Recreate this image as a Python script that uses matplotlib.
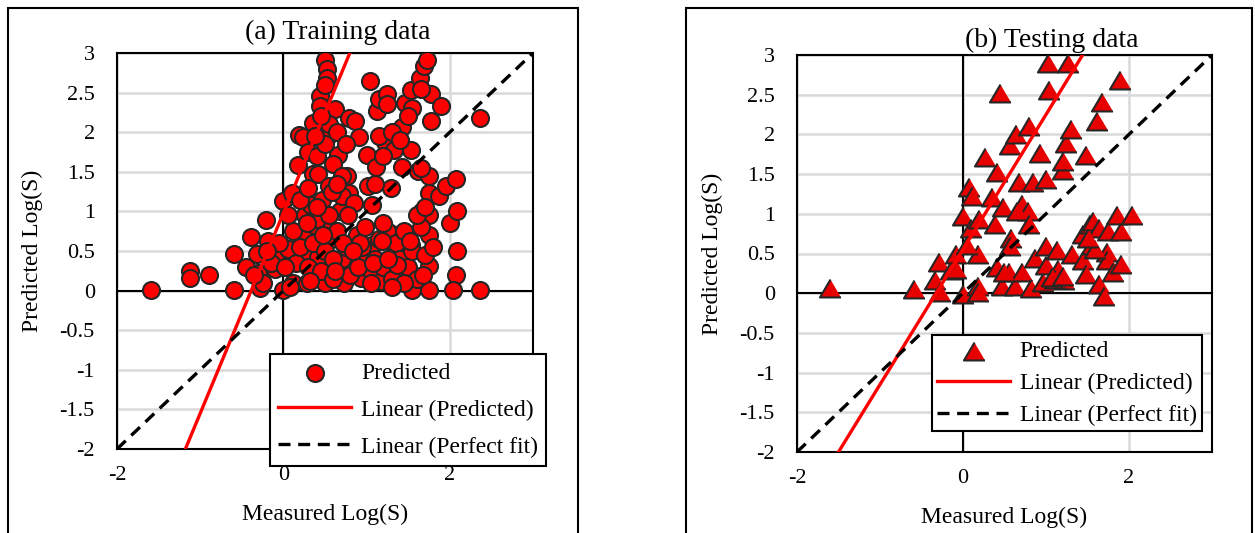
import matplotlib
matplotlib.use('Agg')
import matplotlib.pyplot as plt
from matplotlib.patches import Rectangle
import numpy as np

plt.rcParams['font.family'] = 'Liberation Serif'
plt.rcParams['axes.unicode_minus'] = False

# training set: measured vs predicted log solubility
train_measured = [
    -1.59, -1.12, -1.12, -0.90, -0.59, -0.59, -0.39, -0.32, -0.21, -0.30,
    -0.28, -0.19, -0.10, -0.10, -0.01, 0.00, 0.06, 0.10, 0.12, 0.17,
    0.19, 0.24, 0.24, 0.26, 0.26, 0.28, 0.30, 0.33, 0.35, 0.35,
    0.37, 0.42, 0.42, 0.44, 0.44, 0.46, 0.48, 0.50, 0.50, 0.53,
    0.52, 0.53, 0.53, 0.55, 0.57, 0.62, 0.66, 0.68, 0.71, 0.73,
    0.77, 0.79, 0.79, 0.86, 0.88, 0.91, 0.91, 0.93, 1.00, 1.02,
    1.04, 1.06, 1.06, 1.06, 1.11, 1.13, 1.15, 1.17, 1.22, 1.24,
    1.29, 1.31, 1.33, 1.33, 1.40, 1.42, 1.42, 1.46, 1.49, 1.53,
    1.53, 1.53, 1.55, 1.62, 1.64, 1.67, 1.69, 1.73, 1.75, 1.75,
    1.75, 1.75, 1.75, 1.75, 1.78, 1.78, 1.89, 1.87, 1.96, 2.00,
    2.07, 2.09, 2.09, 2.07, 2.04, 2.36, 2.36,
    0.15, 0.20, 0.30, 0.35, 0.40, 0.45, 0.50, 0.55, 0.60, 0.60,
    0.65, 0.70, 0.75, 0.80, 0.85, 0.90, 0.95, 0.12, 0.05, 0.20,
    0.30, 0.40, 0.50, 0.60, 0.55, 0.65, 0.45, 0.50, 0.38, 0.70,
    0.75, 1.10, 1.15, 1.20, 1.25, 1.30, 1.35, 1.40, 1.45, 1.50,
    1.55, 1.60, 1.65, 1.70, 1.80, 1.05, 1.20, 1.60, 1.70, 1.45,
    1.30, 1.15, 1.20, 1.30, 1.40, 1.10, 1.65, 1.55, 1.65, 1.50,
    1.25, -0.45, -0.25, -0.15, -0.05, 0.02, 0.08, -0.35, -0.20,
    0.32, 0.48, 0.62, 0.78, 0.92, 1.08, 1.18, 1.36, 1.52, 1.68,
    0.40, 0.58, 0.72, 0.98, 1.26, 0.28, 0.64, 0.84,
]
train_predicted = [
    0.01, 0.25, 0.16, 0.20, 0.01, 0.46, 0.68, 0.46, 0.89, 0.22,
    0.03, 0.63, 0.42, 0.27, 1.13, 0.01, 0.52, 1.23, 0.09, 1.58,
    1.97, 1.94, 0.70, 0.95, 0.50, 0.09, 1.75, 1.08, 1.47, 2.12,
    0.83, 1.47, 0.42, 2.46, 2.33, 1.15, 0.22, 0.09, 2.91, 2.80,
    2.68, 1.94, 0.83, 1.32, 0.65, 2.29, 1.71, 1.00, 0.40, 0.09,
    1.45, 1.23, 2.18, 2.14, 0.70, 1.94, 0.44, 0.16, 1.71, 1.32,
    2.65, 1.08, 0.57, 0.22, 1.56, 2.27, 2.42, 0.12, 1.87, 2.48,
    1.30, 0.72, 0.46, 1.77, 0.27, 2.07, 1.56, 2.37, 0.65, 1.77,
    2.53, 0.57, 0.01, 1.51, 2.68, 1.00, 2.83, 2.91, 1.45, 1.23,
    0.95, 0.70, 0.31, 0.01, 2.48, 2.14, 2.33, 1.19, 1.32, 0.85,
    1.41, 1.00, 0.50, 0.20, 0.01, 0.01, 2.18,
    0.35, 0.55, 0.30, 0.60, 0.90, 0.25, 0.50, 0.95, 0.15, 0.40,
    0.75, 1.20, 0.55, 0.20, 1.10, 0.30, 0.55, 0.75, 0.95, 1.15,
    1.30, 1.70, 1.85, 1.60, 2.10, 2.00, 2.20, 2.60, 1.95, 1.45,
    1.85, 0.40, 0.65, 0.30, 0.75, 0.15, 0.60, 0.40, 0.75, 0.30,
    0.50, 0.15, 0.80, 0.45, 0.55, 0.10, 0.85, 0.95, 1.05, 0.10,
    0.05, 1.95, 1.70, 2.00, 1.90, 1.35, 1.55, 2.30, 2.55, 2.20,
    2.35, 0.30, 0.10, 0.35, 0.60, 0.30, 0.05, 0.20, 0.50,
    0.12, 0.70, 0.25, 0.95, 0.60, 0.35, 0.62, 0.32, 0.62, 0.20,
    1.05, 1.25, 0.60, 0.80, 0.40, 0.85, 1.35, 0.50,
]

# testing set
test_measured = [
    -1.60, -0.59, -0.29, -0.34, -0.28, -0.15, -0.08, 0.00, 0.07, 0.11,
    0.00, 0.10, 0.19, 0.18, 0.05, 0.18, 0.18, 0.27, 0.41, 0.44,
    0.35, 0.38, 0.48, 0.41, 0.47, 0.56, 0.58, 0.57, 0.57, 0.64,
    0.80, 0.67, 0.84, 0.71, 0.78, 0.65, 0.80, 0.63, 0.71, 0.82,
    0.87, 0.93, 1.00, 1.02, 1.26, 1.04, 1.00, 1.00, 0.96, 1.13,
    1.20, 1.20, 1.24, 1.30, 1.22, 1.15, 1.31, 1.44, 1.48, 1.48,
    1.44, 1.53, 1.57, 1.55, 1.64, 1.62, 1.68, 1.73, 1.73, 1.75,
    1.64, 1.70, 1.81, 1.90, 1.90, 1.86, 2.04, 1.89, 1.11, 0.49,
    -0.08, 1.07, 1.20, 1.59, 1.50,
]
test_predicted = [
    0.07, 0.05, 0.39, 0.16, 0.01, 0.29, 0.50, -0.01, 1.34, 1.23,
    0.97, 0.82, 0.93, 0.50, 0.61, 0.09, 0.01, 1.72, 1.53, 2.52,
    1.21, 0.87, 1.08, 0.33, 0.09, 0.27, 0.69, 0.59, 1.87, 2.00,
    2.11, 1.40, 1.40, 1.12, 1.04, 1.04, 0.87, 0.09, 0.27, 0.07,
    0.44, 1.77, 1.44, 2.90, 2.90, 2.56, 0.59, 0.35, 0.14, 0.54,
    1.55, 1.66, 1.89, 2.07, 0.16, 0.31, 0.50, 0.42, 1.74, 0.24,
    0.74, 0.87, 0.91, 0.61, 0.82, 2.17, 2.41, 0.52, 0.42, 0.78,
    0.12, -0.03, 0.27, 0.37, 0.78, 0.99, 0.99, 2.69, 0.18, 0.27,
    0.31, 0.20, 0.22, 0.56, 0.69,
]

# Excel linear trendlines (slope, intercept)
train_fit = (2.53, 0.98)
test_fit = (1.70, 0.55)
perfect_fit = (1.0, 0.0)

fig = plt.figure(figsize=(12.55, 5.33), dpi=100)

# panel frames
for x0, w in [(8, 570), (686, 566)]:
    fig.patches.append(Rectangle((x0 / 1255, -0.05), w / 1255, 1 - 8 / 533 + 0.05,
                                 transform=fig.transFigure, fill=False,
                                 edgecolor='black', linewidth=1.5))

tri = [(0, 0.85), (-1, -0.85), (1, -0.85)]


def panel(rect, xs, ys, fit, title, title_xy, marker, color, size, leg_pos, leg_space, leg_pad):
    ax = fig.add_axes(rect)
    ax.set_xlim(-2, 3)
    ax.set_ylim(-2, 3)
    ax.set_xticks([-2, 0, 2])
    ax.set_yticks(np.arange(-2, 3.01, 0.5))
    ax.set_yticklabels(['-2', '-1.5', '-1', '-0.5', '0', '0.5', '1', '1.5', '2', '2.5', '3'])
    ax.tick_params(length=0, labelsize=16, pad=16)
    ax.tick_params(axis='x', pad=12)
    ax.grid(True, color='#d9d9d9', linewidth=1.8)
    ax.set_axisbelow(True)
    for s in ax.spines.values():
        s.set_linewidth(1.5)
    ax.axhline(0, color='black', linewidth=1.5, zorder=1)
    ax.axvline(0, color='black', linewidth=1.5, zorder=1)

    ax.scatter(xs, ys, marker=marker, s=size, facecolor=color,
               edgecolor='#262626', linewidth=1.5, zorder=3, label='Predicted')
    xx = np.array([-2, 3])
    ax.plot(xx, fit[0] * xx + fit[1], color='red', linewidth=2.4, zorder=4,
            label='Linear (Predicted)')
    ax.plot(xx, perfect_fit[0] * xx + perfect_fit[1], color='black', linewidth=2.4,
            dashes=(3.6, 2.3), zorder=4, label='Linear (Perfect fit)')

    ax.set_xlabel('Measured Log(S)', fontsize=17, labelpad=14)
    ax.set_ylabel('Predicted Log(S)', fontsize=17, labelpad=12)
    ax.set_title(title, fontsize=20, x=title_xy[0], y=title_xy[1])

    leg = fig.legend(*ax.get_legend_handles_labels(), loc='upper left',
                     bbox_to_anchor=leg_pos, bbox_transform=fig.transFigure,
                     borderaxespad=0, fontsize=17, frameon=True, fancybox=False,
                     framealpha=1, edgecolor='black', handlelength=3.1,
                     handletextpad=0.4, labelspacing=leg_space, borderpad=leg_pad)
    leg.get_frame().set_linewidth(1.5)
    return ax


panel([117 / 1255, 1 - 449 / 533, 416 / 1255, 396 / 533],
      train_measured, train_predicted, train_fit, '(a) Training data', (0.53, 1.015),
      'o', '#ff0000', 150, (270 / 1255, 1 - 354 / 533), 0.65, 0.35)
panel([797 / 1255, 1 - 452 / 533, 415 / 1255, 397 / 533],
      test_measured, test_predicted, test_fit, '(b) Testing data', (0.614, 1.0),
      tri, '#e60000', 230, (932 / 1255, 1 - 335 / 533), 0.45, 0.22)

fig.savefig('out.png', dpi=100)
